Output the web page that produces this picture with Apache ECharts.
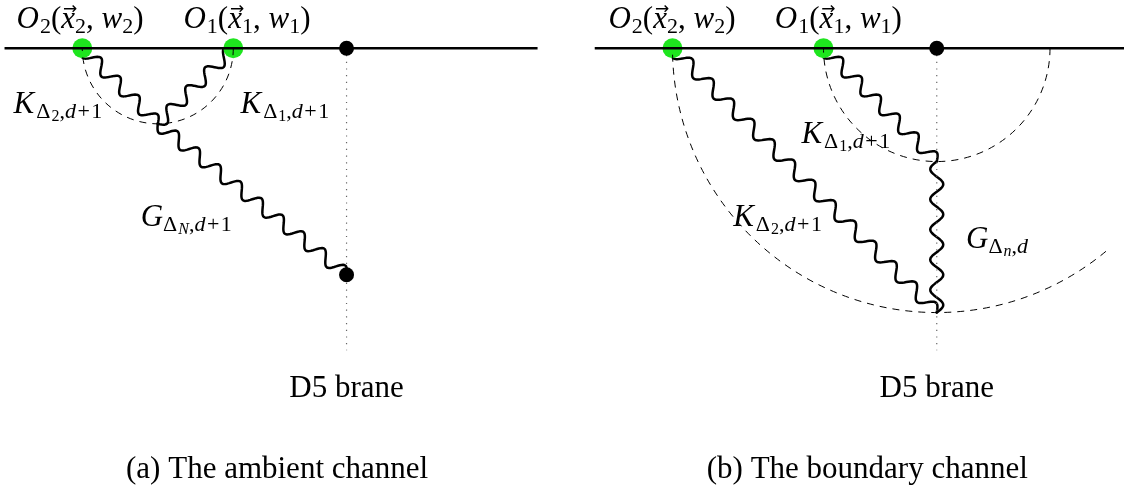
<!DOCTYPE html>
<html><head><meta charset="utf-8">
<script src="https://cdn.jsdelivr.net/npm/echarts@6/dist/echarts.min.js"></script>
<style>html,body{margin:0;padding:0;background:#fff}#c{width:1124px;height:493px}</style>
</head><body><div id="c"></div>
<script>
// Units: x along the boundary (O2 at 0, O1 at 2), y = depth into the bulk (down).
// ---- panel (a): the ambient channel ----
const boundaryA   = [[-1.03, 0], [6.03, 0]];
const insertionsA = [[0, 0], [2, 0]];            // O2, O1
const pointsA     = [[3.5, 0], [3.5, 3]];        // brane point, bulk endpoint
const braneA      = [[3.5, 0], [3.5, 4.0]];
const wavyA       = [[0, 0, 1, 1], [2, 0, 1, 1], [1, 1, 3.5, 3]];   // x1,y1,x2,y2
const arcsA       = [[1, 0, 1, 0, 180]];                             // cx,cy,r,startDeg,endDeg
const labelPosA   = [[-0.03, -0.381], [2.181, -0.381], [-0.322, 0.744], [2.683, 0.744], [1.377, 2.241], [3.5, 4.51], [2.58, 5.588]];
const labelTxtA   = ['O2', 'O1', 'K2', 'K1', 'GN', 'D5', 'capA'];
// ---- panel (b): the boundary channel ----
const boundaryB   = [[-1.03, 0], [6.1, 0]];
const insertionsB = [[0, 0], [2, 0]];
const pointsB     = [[3.5, 0]];
const braneB      = [[3.5, 0], [3.5, 4.0]];
const wavyB       = [[0, 0, 3.5, 3.5], [2, 0, 3.5, 1.5], [3.5, 1.5, 3.5, 3.5]];
const arcsB       = [[3.5, 0, 1.5, 0, 180], [3.5, 0, 3.5, 50.2, 180]];
const labelPosB   = [[-0.007, -0.381], [2.197, -0.381], [2.295, 1.142], [1.391, 2.241], [4.298, 2.532], [3.5, 4.51], [2.58, 5.588]];
const labelTxtB   = ['O2', 'O1', 'K1', 'K2', 'Gn', 'D5', 'capB'];

const SERIF = '"Liberation Serif", "DejaVu Serif", serif';
const MAIN = 31, SUB = 22, SSUB = 16, ROMAN = 31;
const TEXTS = {
  O2: '{cal|O}{sr|2}{rm|(}{it|x}{arr|\u2192}{sr|2}{rm|, }{it|w}{sr|2}{rm|)}',
  O1: '{cal|O}{sr|1}{rm|(}{it|x}{arr|\u2192}{sr|1}{rm|, }{it|w}{sr|1}{rm|)}',
  K2: '{itk|K}{srd|\u0394}{ssr|2}{sr|,}{si|d}{sp|+}{sr|1}',
  K1: '{itk|K}{srd|\u0394}{ssr|1}{sr|,}{si|d}{sp|+}{sr|1}',
  GN: '{it|G}{srd|\u0394}{ssi|N}{sr|,}{si|d}{sp|+}{sr|1}',
  Gn: '{it|G}{srd|\u0394}{ssi|n}{sr|,}{si|d}',
  D5: '{txt|D5 brane}',
  capA: '{txt|(a) The ambient channel}',
  capB: '{txt|(b) The boundary channel}'
};
const INK = {color: '#000', opacity: 1};
const RICH = {
  it:  Object.assign({fontFamily: SERIF, fontStyle: 'italic', fontSize: MAIN}, INK),
  cal: Object.assign({fontFamily: SERIF, fontStyle: 'italic', fontSize: MAIN, padding: [0, 1, 0, 0]}, INK),
  itk: Object.assign({fontFamily: SERIF, fontStyle: 'italic', fontSize: MAIN, padding: [0, 2, 0, 0]}, INK),
  rm:  Object.assign({fontFamily: SERIF, fontSize: MAIN}, INK),
  arr: Object.assign({fontFamily: '"DejaVu Sans"', fontSize: 17, padding: [0, -2.2, 20, -12]}, INK),
  si:  Object.assign({fontFamily: SERIF, fontStyle: 'italic', fontSize: SUB, padding: [16.2, 0, 0, 0]}, INK),
  sr:  Object.assign({fontFamily: SERIF, fontSize: SUB, padding: [16.2, 0, 0, 0]}, INK),
  srd: Object.assign({fontFamily: SERIF, fontSize: SUB, padding: [16.2, 1, 0, 0]}, INK),
  sp:  Object.assign({fontFamily: SERIF, fontSize: SUB, padding: [16.2, 1.5, 0, 1.5]}, INK),
  ssi: Object.assign({fontFamily: SERIF, fontStyle: 'italic', fontSize: SSUB, padding: [24.2, 0, 0, 0]}, INK),
  ssr: Object.assign({fontFamily: SERIF, fontSize: SSUB, padding: [24.2, 0, 0, 0]}, INK),
  txt: Object.assign({fontFamily: SERIF, fontSize: ROMAN}, INK)
};

const AMP = 6.5, PERIOD = 28;
function wavyRender(params, api) {
  const p1 = api.coord([api.value(0), api.value(1)]);
  const p2 = api.coord([api.value(2), api.value(3)]);
  const dx = p2[0] - p1[0], dy = p2[1] - p1[1];
  const L = Math.hypot(dx, dy);
  const nx = -dy / L, ny = dx / L;
  const n = Math.max(1, Math.round(L / PERIOD));
  const steps = n * 24, pts = [];
  for (let i = 0; i <= steps; i++) {
    const t = i / steps, o = AMP * Math.sin(2 * Math.PI * n * t);
    pts.push([p1[0] + dx * t + nx * o, p1[1] + dy * t + ny * o]);
  }
  return {type: 'polyline', shape: {points: pts},
          style: {stroke: '#000', lineWidth: 2.5, fill: null, lineJoin: 'round', lineCap: 'round'}};
}
function arcRender(params, api) {
  const c = api.coord([api.value(0), api.value(1)]);
  const r = api.size([api.value(2), 0])[0];
  return {type: 'arc', shape: {cx: c[0], cy: c[1], r: r,
          startAngle: api.value(3) * Math.PI / 180, endAngle: api.value(4) * Math.PI / 180, clockwise: true},
          style: {stroke: '#000', fill: null, lineWidth: 1, lineDash: [7, 6]}};
}

function panelSeries(i, d) {
  const ax = {xAxisIndex: i, yAxisIndex: i, silent: true, animation: false};
  return [
    Object.assign({type: 'custom', renderItem: wavyRender, data: d.wavy, clip: false, z: 2}, ax),
    Object.assign({type: 'scatter', data: d.ins, symbolSize: 20, itemStyle: {color: '#1ee51e', opacity: 1}, z: 3}, ax),
    Object.assign({type: 'line', data: d.boundary, symbol: 'none', lineStyle: {color: '#000', width: 2.4}, z: 4}, ax),
    Object.assign({type: 'custom', renderItem: arcRender, data: d.arcs, clip: false, z: 5}, ax),
    Object.assign({type: 'line', data: d.brane, symbol: 'none', lineStyle: {color: '#666', width: 1.2, type: [1.2, 5.5]}, z: 5}, ax),
    Object.assign({type: 'scatter', data: d.points, symbolSize: 15, itemStyle: {color: '#000', opacity: 1}, z: 6}, ax),
    Object.assign({type: 'scatter', data: d.labelPos, symbolSize: 1, itemStyle: {color: 'rgba(0,0,0,0)', opacity: 1}, z: 7,
      label: {show: true, position: 'inside', align: 'center', verticalAlign: 'middle', color: '#000', opacity: 1,
              textBorderWidth: 0, rich: RICH, formatter: p => TEXTS[d.labelTxt[p.dataIndex]]}}, ax)
  ];
}

const chart = echarts.init(document.getElementById('c'), null, {renderer: 'canvas'});
const ya = {type: 'value', min: -0.6, max: 5.89, inverse: true, show: false};
chart.setOption({
  animation: false,
  backgroundColor: '#fff',
  grid: [{left: 0, top: 3, width: 555, height: 490}, {left: 590, top: 3, width: 534, height: 490}],
  xAxis: [{gridIndex: 0, type: 'value', min: -1.09, max: 6.261, show: false},
          {gridIndex: 1, type: 'value', min: -1.0927, max: 5.98, show: false}],
  yAxis: [Object.assign({gridIndex: 0}, ya), Object.assign({gridIndex: 1}, ya)],
  series: [].concat(
    panelSeries(0, {wavy: wavyA, ins: insertionsA, boundary: boundaryA, arcs: arcsA, brane: braneA, points: pointsA, labelPos: labelPosA, labelTxt: labelTxtA}),
    panelSeries(1, {wavy: wavyB, ins: insertionsB, boundary: boundaryB, arcs: arcsB, brane: braneB, points: pointsB, labelPos: labelPosB, labelTxt: labelTxtB})
  )
});
</script></body></html>
